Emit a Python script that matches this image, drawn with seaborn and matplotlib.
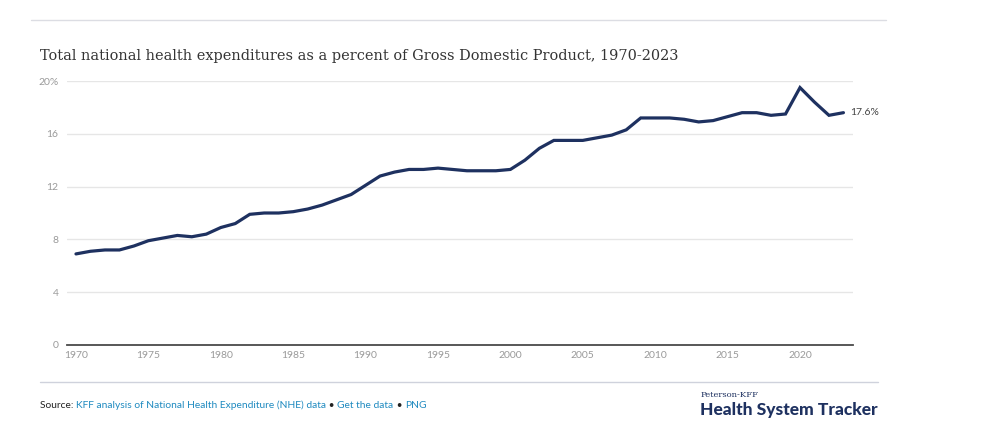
import matplotlib
matplotlib.use("Agg")
import matplotlib.pyplot as plt
from matplotlib.lines import Line2D
import seaborn as sns
import pandas as pd

years = list(range(1970, 2024))
share = [6.9, 7.1, 7.2, 7.2, 7.5, 7.9, 8.1, 8.3, 8.2, 8.4,
         8.9, 9.2, 9.9, 10.0, 10.0, 10.1, 10.3, 10.6, 11.0, 11.4,
         12.1, 12.8, 13.1, 13.3, 13.3, 13.4, 13.3, 13.2, 13.2, 13.2,
         13.3, 14.0, 14.9, 15.5, 15.5, 15.5, 15.7, 15.9, 16.3, 17.2,
         17.2, 17.2, 17.1, 16.9, 17.0, 17.3, 17.6, 17.6, 17.4, 17.5,
         19.5, 18.4, 17.4, 17.6]
y_ticks = [0, 4, 8, 12, 16, 20]
y_labels = ["0", "4", "8", "12", "16", "20%"]
x_ticks = [1970, 1975, 1980, 1985, 1990, 1995, 2000, 2005, 2010, 2015, 2020]

title = "Total national health expenditures as a percent of Gross Domestic Product, 1970-2023"
end_label = "17.6%"

df = pd.DataFrame({"year": years, "share": share})

sns.set_theme(style="white")
plt.rcParams["font.family"] = ["Lato", "DejaVu Sans"]

W, H = 996, 436
fig = plt.figure(figsize=(W / 100, H / 100), dpi=100)
fig.patch.set_facecolor("white")

def fx(px):
    return px / W

def fy(py):
    return 1 - py / H

ax = fig.add_axes([fx(67), fy(345), fx(853 - 67), fy(81) - fy(345)])
sns.lineplot(data=df, x="year", y="share", ax=ax, color="#1e3160", linewidth=2.3,
             solid_joinstyle="miter")
ax.set_xlim(1969.38, 2023.66)
ax.set_ylim(0, 20)
ax.set_yticks(y_ticks)
ax.set_yticklabels(y_labels)
ax.set_xticks(x_ticks)
ax.set_xticklabels([str(t) for t in x_ticks])
ax.set_xlabel("")
ax.set_ylabel("")
for s in ["top", "right", "left"]:
    ax.spines[s].set_visible(False)
ax.spines["bottom"].set_color("#4a4a4a")
ax.spines["bottom"].set_linewidth(1.3)
ax.yaxis.grid(True, color="#e6e6e6", linewidth=1.0)
ax.xaxis.grid(False)
ax.set_axisbelow(True)
ax.tick_params(axis="both", length=0, labelsize=7.5, colors="#9a9a9a")
ax.tick_params(axis="y", pad=6)
ax.tick_params(axis="x", pad=4)

ax.annotate(end_label, xy=(years[-1], share[-1]), xytext=(5, 0),
            textcoords="offset points", va="center", ha="left",
            fontsize=7.5, color="#444444")

# Rules
fig.add_artist(Line2D([fx(31), fx(886)], [fy(20), fy(20)], color="#dcdde3", lw=1.0))
fig.add_artist(Line2D([fx(40), fx(878)], [fy(382), fy(382)], color="#cfd2dc", lw=1.0))

# Title
fig.text(fx(40), fy(56), title, family="DejaVu Serif", fontsize=10.45,
         color="#333333", va="center", ha="left")

# Source line built from pieces
renderer = fig.canvas.get_renderer()
pieces = [("Source: ", "#222222"),
          ("KFF analysis of National Health Expenditure (NHE) data", "#1f8ac0"),
          (" \u2022 ", "#222222"),
          ("Get the data", "#1f8ac0"),
          (" \u2022 ", "#222222"),
          ("PNG", "#1f8ac0")]
xpos = 40
for txt, col in pieces:
    t = fig.text(fx(xpos), fy(405.5), txt, fontsize=7.4, color=col,
                 va="center", ha="left")
    bb = t.get_window_extent(renderer=renderer)
    xpos += bb.width

# Logo
fig.text(fx(701), fy(395), "Peterson-KFF", family="DejaVu Serif", fontsize=6.0,
         color="#1e3160", va="center", ha="left")
fig.text(fx(878), fy(410), "Health System Tracker", fontsize=12.5, fontweight="black",
         color="#1e3160", va="center", ha="right")

fig.savefig("out.png", dpi=100, facecolor="white")
